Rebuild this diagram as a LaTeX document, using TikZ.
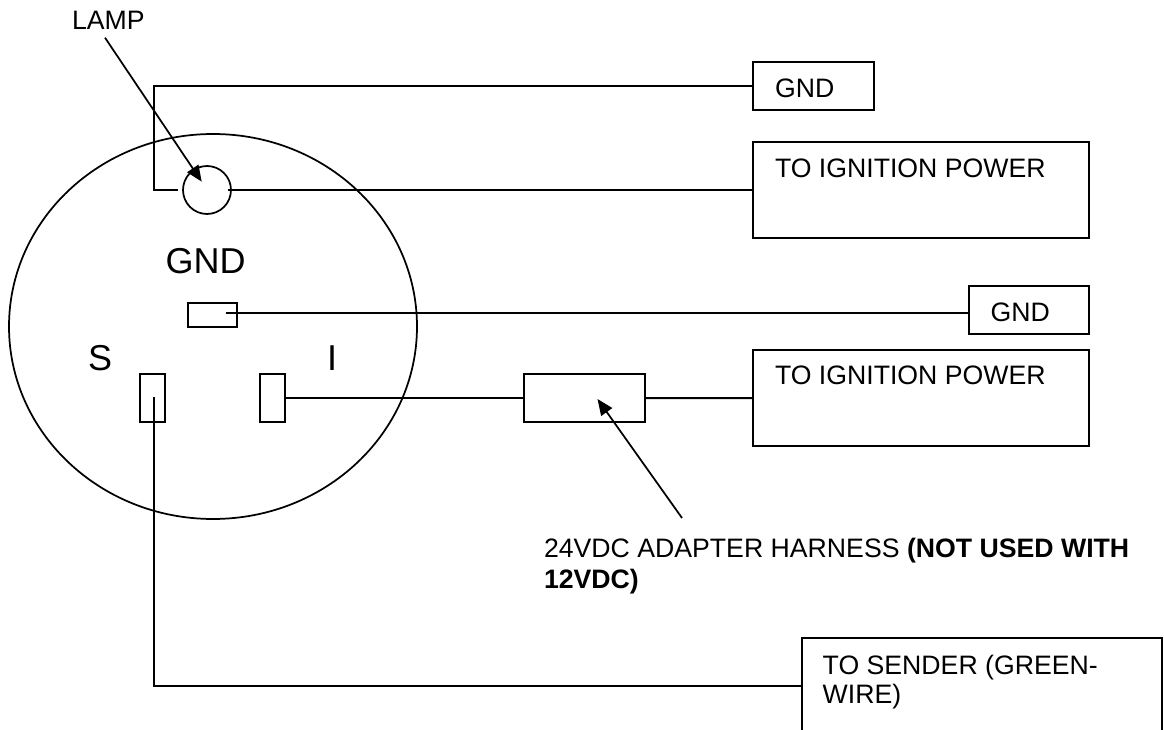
\documentclass[tikz,border=0pt]{standalone}
\usepackage{fontspec}
\setmainfont{Liberation Sans}
\usetikzlibrary{arrows.meta,shapes.geometric}
\tikzset{
  wire/.style={draw=black,line width=1.5pt},
  outline/.style={draw=black,line width=1.3pt},
  boxx/.style n args={2}{draw=black,line width=1.5pt,inner sep=0pt,outer sep=0pt,anchor=north west,minimum width=#1*0.75pt,minimum height=#2*0.75pt},
  pin/.style n args={2}{draw=black,line width=1.3pt,inner sep=0pt,outer sep=0pt,anchor=north west,minimum width=#1*0.75pt,minimum height=#2*0.75pt},
  txt/.style={inner sep=0pt,outer sep=0pt,anchor=base west,font=\fontsize{20}{24}\selectfont},
  big/.style={inner sep=0pt,outer sep=0pt,anchor=base west,font=\fontsize{27}{32}\selectfont},
  pointer/.style={draw=black,line width=1.3pt,-{Triangle[length=12pt,width=10pt]}}
}
\begin{document}
\begin{tikzpicture}[x=0.75pt,y=-0.75pt]
\useasboundingbox (0,0) rectangle (1164,730);
\clip (0,0) rectangle (1164,730);
% connector body and lamp
\node[outline,ellipse,minimum width=408*0.75pt,minimum height=385*0.75pt,inner sep=0pt,outer sep=0pt] (body) at (213,326.5) {};
\node[outline,circle,minimum size=48*0.75pt,inner sep=0pt,outer sep=0pt] (lamp) at (207,190) {};
% pins
\node[pin={49}{24}] (gndpin) at (188,302.7) {};
\node[pin={25}{48}] (spin) at (140,374) {};
\node[pin={25}{48}] (ipin) at (260,374) {};
% boxes
\node[boxx={121}{48}] (gndtop) at (753,62) {};
\node[boxx={336}{96}] (igntop) at (753,142) {};
\node[boxx={120}{48}] (gndmid) at (969,286) {};
\node[boxx={336}{96.5}] (ignlow) at (753,350) {};
\node[boxx={120.5}{48}] (adapter) at (524,374) {};
\node[boxx={360.5}{110}] (sender) at (801.5,638) {};
% box texts
\node[txt] (tgndtop) at (775,97.7) {GND};
\node[txt] (tigntop) at (775,177.7) {TO IGNITION POWER};
\node[txt] (tgndmid) at (990.7,321.7) {GND};
\node[txt] (tignlow) at (775,385) {TO IGNITION POWER};
\node[txt] (tsender1) at (822.7,674) {TO SENDER (GREEN-};
\node[txt] (tsender2) at (822.7,703) {WIRE)};
% labels
\node[txt] (tlamp) at (72,30) {LAMP};
\node[big] (tgnd) at (165.5,274) {GND};
\node[big] (ts) at (88,371) {S};
\node[big] (ti) at (327,371) {I};
\node[txt] (tadapter1) at (544,558) {24VDC ADAPTER HARNESS \textbf{(NOT USED WITH}};
\node[txt] (tadapter2) at (544,589) {\textbf{12VDC)}};
% anchor points
\coordinate (lampleft) at (178,190);
\coordinate (lampright) at (228,190);
\coordinate (gndcorner1) at (154,190);
\coordinate (gndcorner2) at (154,86);
\coordinate (gndpinin) at (225.7,312.7);
\coordinate (gndmidin) at (969,312.7);
\coordinate (spinin) at (153.7,397.5);
\coordinate (scorner) at (153.7,686);
\coordinate (senderin) at (801.5,686);
\coordinate (lamparrowfrom) at (105,37.7);
\coordinate (lamparrowto) at (201.7,181.7);
\coordinate (adaparrowfrom) at (682,518);
\coordinate (adaparrowto) at (597.5,399);
% wires
\draw[wire] (lampleft) -- (gndcorner1) -- (gndcorner2) -- (gndtop.west);
\draw[wire] (lampright) -- (igntop.west);
\draw[wire] (gndpinin) -- (gndmidin);
\draw[wire] (ipin.east) -- (adapter.west);
\draw[wire] (adapter.east) -- (ignlow.west);
\draw[wire] (spinin) -- (scorner) -- (senderin);
% pointers
\draw[pointer] (lamparrowfrom) -- (lamparrowto);
\draw[pointer] (adaparrowfrom) -- (adaparrowto);
\end{tikzpicture}
\end{document}
